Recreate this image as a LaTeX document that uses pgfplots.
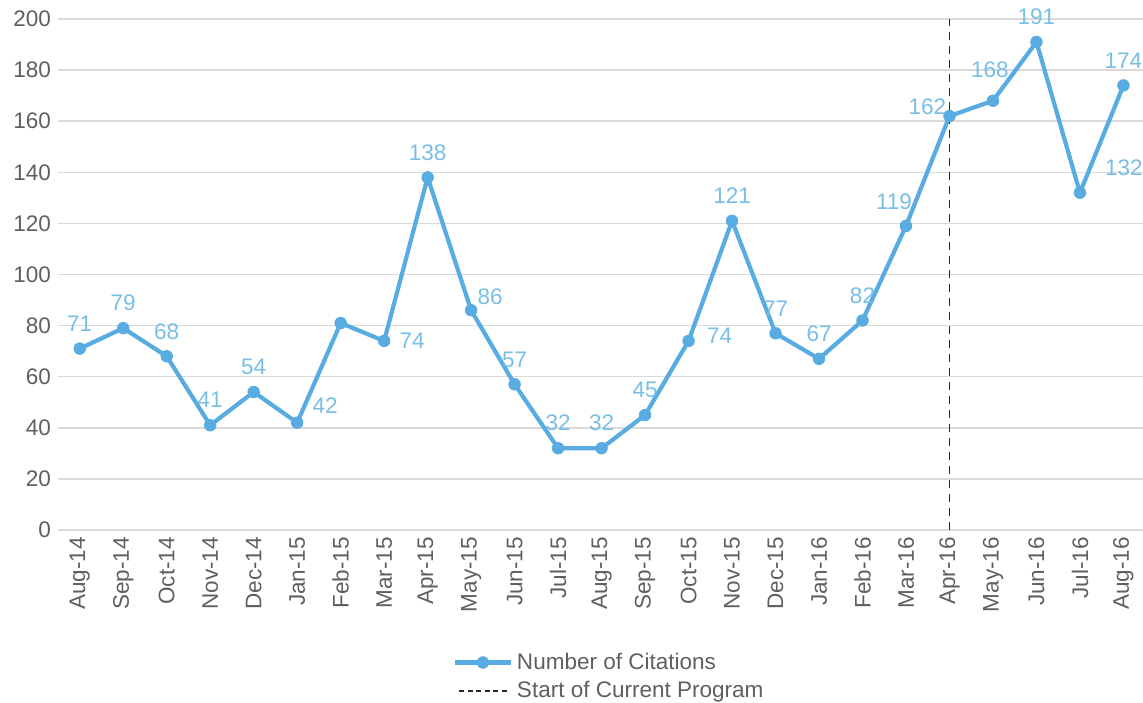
\documentclass[border=0pt]{standalone}
\usepackage{pgfplots}
\pgfplotsset{compat=1.18}
\usepackage{pgfplotstable}
\usepackage{fontspec}
\setmainfont{Liberation Sans}
\definecolor{lineblue}{RGB}{88,172,225}
\definecolor{lblblue}{RGB}{120,190,230}
\definecolor{tickgray}{RGB}{95,95,95}
\definecolor{gridgray}{RGB}{218,218,218}

\pgfplotsset{
  citelegend/.style={legend image code/.code={\draw[mark repeat=2,mark phase=2,##1] plot coordinates {(0bp,0bp)(14bp,0bp)(28bp,0bp)};}},
  dashlegend/.style={legend image code/.code={\draw[##1, dash pattern=on 2.5bp off 1.8bp] (2bp,0bp) -- (27bp,0bp);}},
}

\pgfplotstableread{
x y
0 71
1 79
2 68
3 41
4 54
5 42
6 81
7 74
8 138
9 86
10 57
11 32
12 32
13 45
14 74
15 121
16 77
17 67
18 82
19 119
20 162
21 168
22 191
23 132
24 174
}\citedata

% labels (Feb-15 unlabeled); dx, dy in bp
\pgfplotstableread{
x y dx dy
0 71 0 12.5
1 79 0 12.5
2 68 0 12.5
3 41 0 12.5
4 54 0 12.5
5 42 14 8.5
7 74 14 0
8 138 0 12.5
9 86 9.5 7
10 57 0 12.5
11 32 0 12.5
12 32 0 12.5
13 45 0 12.5
14 74 15.5 2.5
15 121 0 12.5
16 77 0 12.5
17 67 0 12.5
18 82 0 12.5
19 119 -6 12
20 162 -11 4.5
21 168 -1.5 15.5
22 191 0 12.5
23 132 22 12.5
24 174 0 12.5
}\labeldata

\begin{document}
\begin{tikzpicture}
\begin{axis}[
  name=ax,
  scale only axis,
  width=542.5bp, height=255.5bp,
  xmin=-0.5, xmax=24.45, ymin=0, ymax=200,
  /pgf/number format/assume math mode=true,
  xtick={0,...,24},
  xticklabels={Aug-14,Sep-14,Oct-14,Nov-14,Dec-14,Jan-15,Feb-15,Mar-15,Apr-15,May-15,Jun-15,Jul-15,Aug-15,Sep-15,Oct-15,Nov-15,Dec-15,Jan-16,Feb-16,Mar-16,Apr-16,May-16,Jun-16,Jul-16,Aug-16},
  x tick label style={rotate=90, anchor=east},
  ytick={0,20,...,200},
  ymajorgrids,
  grid style={gridgray, line width=0.7bp},
  axis line style={draw=none},
  major tick style={draw=none},
  tick label style={font=\fontsize{11.3}{13}\selectfont, text=tickgray},
  clip=false,
  legend cell align=left,
  legend style={at={(0.358,-0.224)}, anchor=north west, draw=none, fill=none,
    font=\fontsize{11.3}{14}\selectfont, text=tickgray, row sep=0.5bp},
]
\addplot[lineblue, line width=2.1bp, mark=*, mark size=2.9bp,
  mark options={fill=lineblue, draw=lineblue, line width=0.4bp}, citelegend]
  table[x=x,y=y] {\citedata};
\addlegendentry{Number of Citations}
\addplot[black!85, line width=0.9bp, dash pattern=on 4bp off 3bp, mark=none, dashlegend]
  coordinates {(20,0) (20,200)};
\addlegendentry{Start of Current Program}
\addplot[draw=none, mark=none, forget plot,
  nodes near coords, point meta=explicit,
  visualization depends on={\thisrow{dx} \as \dx},
  visualization depends on={\thisrow{dy} \as \dy},
  every node near coord/.append style={anchor=center, xshift=\dx bp, yshift=\dy bp,
    text=lblblue, font=\fontsize{11.3}{13}\selectfont}]
  table[x=x,y=y,meta=y] {\labeldata};
\end{axis}
\pgfresetboundingbox
\path[use as bounding box] ([shift={(-29bp,-86.5bp)}]ax.south west) rectangle ([shift={(0bp,9.5bp)}]ax.north east);
\end{tikzpicture}
\end{document}
